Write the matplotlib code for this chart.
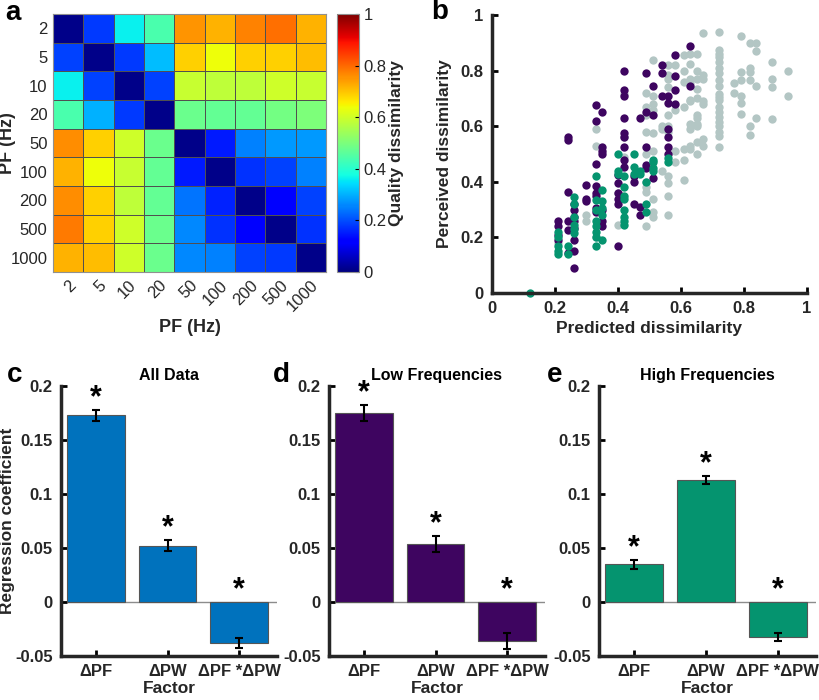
import numpy as np
import matplotlib.pyplot as plt

plt.rcParams['font.family'] = ['Liberation Sans', 'DejaVu Sans']

# ---- panel a: quality dissimilarity matrix
pf_labels = ['2', '5', '10', '20', '50', '100', '200', '500', '1000']
dissim = [
    [0.01, 0.18, 0.36, 0.44, 0.75, 0.72, 0.77, 0.79, 0.72],
    [0.19, 0.01, 0.18, 0.31, 0.69, 0.64, 0.69, 0.69, 0.71],
    [0.36, 0.19, 0.01, 0.19, 0.59, 0.58, 0.58, 0.60, 0.59],
    [0.44, 0.30, 0.18, 0.01, 0.48, 0.47, 0.47, 0.49, 0.50],
    [0.76, 0.69, 0.60, 0.48, 0.01, 0.15, 0.25, 0.275, 0.275],
    [0.72, 0.64, 0.59, 0.47, 0.15, 0.01, 0.175, 0.19, 0.25],
    [0.76, 0.69, 0.58, 0.47, 0.24, 0.16, 0.01, 0.11, 0.19],
    [0.78, 0.69, 0.60, 0.48, 0.26, 0.175, 0.11, 0.01, 0.175],
    [0.72, 0.71, 0.60, 0.48, 0.26, 0.25, 0.19, 0.18, 0.01],
]

# ---- panel b: predicted vs perceived dissimilarity
cross_x = [0.21, 0.30, 0.30, 0.33, 0.33, 0.33, 0.40, 0.40, 0.42, 0.42, 0.42,
           0.49, 0.49, 0.49, 0.49, 0.49, 0.49, 0.49, 0.49, 0.49,
           0.51, 0.51, 0.51, 0.51, 0.51, 0.51, 0.51, 0.51, 0.51,
           0.54, 0.54, 0.54,
           0.56, 0.56, 0.56, 0.56, 0.56, 0.56, 0.56, 0.56, 0.56, 0.56, 0.56,
           0.58, 0.58, 0.58, 0.58,
           0.61, 0.61, 0.61, 0.61, 0.61, 0.61, 0.61,
           0.63, 0.63, 0.63, 0.63, 0.63, 0.63, 0.63, 0.63, 0.63, 0.63,
           0.65, 0.65, 0.65, 0.65, 0.65, 0.65, 0.65, 0.65, 0.65, 0.65, 0.65,
           0.67, 0.67, 0.67, 0.67, 0.67, 0.67, 0.67,
           0.72, 0.72, 0.72, 0.72, 0.72, 0.72, 0.72, 0.72, 0.72, 0.72,
           0.72, 0.72, 0.72, 0.72, 0.72, 0.72, 0.72, 0.72, 0.72, 0.72,
           0.77, 0.77,
           0.79, 0.79, 0.79, 0.79, 0.79, 0.79,
           0.82, 0.82, 0.82, 0.82, 0.82, 0.82,
           0.84, 0.84, 0.84, 0.84,
           0.89, 0.89, 0.89, 0.89,
           0.94, 0.94]
cross_y = [0.18, 0.28, 0.26, 0.53, 0.59, 0.20, 0.36, 0.245, 0.715, 0.56, 0.49,
           0.72, 0.67, 0.64, 0.58, 0.50, 0.40, 0.38, 0.365, 0.24,
           0.84, 0.71, 0.68, 0.66, 0.575, 0.51, 0.34, 0.29, 0.275,
           0.60, 0.59, 0.44,
           0.82, 0.785, 0.77, 0.74, 0.64, 0.60, 0.58, 0.42, 0.395, 0.35, 0.28,
           0.82, 0.66, 0.51, 0.47,
           0.855, 0.80, 0.76, 0.67, 0.52, 0.48, 0.405,
           0.86, 0.825, 0.77, 0.755, 0.695, 0.69, 0.61, 0.59, 0.53, 0.52,
           0.86, 0.80, 0.77, 0.735, 0.70, 0.64, 0.63, 0.61, 0.60, 0.545, 0.50,
           0.935, 0.785, 0.77, 0.69, 0.68, 0.555, 0.53,
           0.94, 0.875, 0.86, 0.85, 0.83, 0.81, 0.79, 0.765, 0.745, 0.715,
           0.705, 0.695, 0.67, 0.65, 0.635, 0.615, 0.60, 0.58, 0.565, 0.525,
           0.755, 0.72,
           0.925, 0.795, 0.765, 0.71, 0.685, 0.645,
           0.90, 0.81, 0.795, 0.765, 0.60, 0.57,
           0.90, 0.87, 0.745, 0.63,
           0.83, 0.77, 0.74, 0.625,
           0.80, 0.71]

low_x = [0.21, 0.21, 0.21, 0.21,
         0.24, 0.24, 0.24, 0.24, 0.24, 0.24,
         0.26, 0.26, 0.26, 0.26, 0.26, 0.26, 0.26, 0.26,
         0.30, 0.30, 0.30,
         0.33, 0.33, 0.33, 0.33, 0.33, 0.33, 0.33, 0.33,
         0.35, 0.35, 0.35, 0.35, 0.35, 0.35, 0.35,
         0.40, 0.40, 0.40, 0.40, 0.40, 0.40,
         0.42, 0.42, 0.42, 0.42, 0.42, 0.42, 0.42, 0.42, 0.42,
         0.45, 0.45, 0.45,
         0.47, 0.47, 0.47,
         0.49, 0.49, 0.49, 0.49, 0.49,
         0.51, 0.51, 0.51,
         0.54, 0.54, 0.54,
         0.56, 0.56, 0.56, 0.56, 0.56, 0.56,
         0.58, 0.58, 0.58, 0.58,
         0.63, 0.63]
low_y = [0.26, 0.24, 0.21, 0.19,
         0.56, 0.55, 0.365, 0.26, 0.225, 0.145,
         0.32, 0.30, 0.275, 0.26, 0.235, 0.19, 0.15, 0.09,
         0.39, 0.34, 0.33,
         0.675, 0.62, 0.465, 0.385, 0.36, 0.35, 0.305, 0.29,
         0.65, 0.525, 0.51, 0.50, 0.30, 0.26, 0.24,
         0.425, 0.395, 0.36, 0.34, 0.32, 0.17,
         0.80, 0.73, 0.71, 0.63, 0.575, 0.56, 0.525, 0.48, 0.455,
         0.42, 0.40, 0.32,
         0.63, 0.31, 0.28,
         0.79, 0.65, 0.525, 0.46, 0.45,
         0.745, 0.64, 0.415,
         0.82, 0.79, 0.71,
         0.71, 0.685, 0.59, 0.56, 0.525, 0.50,
         0.855, 0.78, 0.73, 0.68,
         0.89, 0.745]

high_x = [0.12,
          0.21, 0.21, 0.21, 0.21, 0.21,
          0.24, 0.24,
          0.26, 0.26, 0.26, 0.26, 0.26, 0.26,
          0.33, 0.33, 0.33, 0.33, 0.33, 0.33, 0.33, 0.33,
          0.35, 0.35, 0.35, 0.35, 0.35,
          0.40, 0.40, 0.40,
          0.42, 0.42, 0.42, 0.42, 0.42, 0.42, 0.42, 0.42,
          0.45, 0.45, 0.45,
          0.47, 0.47,
          0.49, 0.49, 0.49,
          0.51, 0.51, 0.51, 0.51,
          0.56, 0.56]
high_y = [0.0,
          0.22, 0.20, 0.17, 0.15, 0.14,
          0.17, 0.14,
          0.345, 0.32, 0.275, 0.245, 0.23, 0.215,
          0.42, 0.335, 0.30, 0.26, 0.24, 0.22, 0.20, 0.17,
          0.37, 0.33, 0.305, 0.28, 0.19,
          0.50, 0.44, 0.43,
          0.42, 0.38, 0.35, 0.34, 0.30, 0.275, 0.26, 0.245,
          0.50, 0.455, 0.43,
          0.44, 0.43,
          0.40, 0.32, 0.29,
          0.48, 0.47, 0.45, 0.44,
          0.485, 0.47]

# ---- panels c-e: regression coefficients
factors = ['ΔPF', 'ΔPW', 'ΔPF *ΔPW']
coef_all = [0.173, 0.052, -0.038]
err_all = [0.005, 0.005, 0.005]
coef_low = [0.175, 0.054, -0.0365]
err_low = [0.0077, 0.0074, 0.0074]
coef_high = [0.035, 0.113, -0.0325]
err_high = [0.0043, 0.004, 0.004]

BLUE = '#0072BD'
PURPLE = '#3E0560'
GREEN = '#05946F'
GREY = '#B3C6C4'
INK = '#262626'

fig = plt.figure(figsize=(8.2, 7), dpi=100)

# a
ax = fig.add_axes([0.0646, 0.6114, 0.333, 0.3686])
cax = fig.add_axes([0.411, 0.6114, 0.0268, 0.3686])
m = ax.pcolormesh(np.array(dissim), cmap='jet', vmin=0, vmax=1,
                  edgecolors='#505050', linewidth=0.5)
ax.set_xlim(0, 9)
ax.set_ylim(9, 0)
ax.set_xticks(np.arange(9) + 0.5)
ax.set_yticks(np.arange(9) + 0.5)
ax.set_xticklabels(pf_labels, rotation=45, ha='right', rotation_mode='anchor')
ax.set_yticklabels(pf_labels)
ax.tick_params(length=0, labelsize=12, pad=4, labelcolor=INK)
for s in ax.spines.values():
    s.set_color('#909090')
ax.set_xlabel('PF (Hz)', fontsize=13, fontweight='bold', labelpad=3, color=INK)
fig.text(0.0095, 0.7957, 'PF (Hz)', fontsize=13, fontweight='bold', color=INK,
         rotation=90, ha='center', va='center')
cb = fig.colorbar(m, cax=cax, ticks=[0, 0.2, 0.4, 0.6, 0.8, 1])
cb.ax.set_yticklabels(['0', '0.2', '0.4', '0.6', '0.8', '1'])
cb.ax.tick_params(labelsize=12, length=3, direction='in', labelcolor=INK)
cb.outline.set_color('#909090')
fig.text(0.4835, 0.7957, 'Quality dissimilarity', fontsize=12.5, fontweight='bold',
         color=INK, rotation=90, ha='center', va='center')
fig.text(0.006, 0.981, 'a', fontsize=20, fontweight='bold', va='center')

# b
ax = fig.add_axes([0.6, 0.5814, 0.384, 0.397])
ax.scatter(cross_x, cross_y, s=36, color=GREY, linewidths=0, clip_on=False)
ax.scatter(low_x, low_y, s=36, color=PURPLE, linewidths=0, clip_on=False)
ax.scatter(high_x, high_y, s=36, color=GREEN, linewidths=0, clip_on=False)
ax.set_xlim(0, 1)
ax.set_ylim(0, 1)
ax.set_xticks([0, 0.2, 0.4, 0.6, 0.8, 1])
ax.set_xticklabels(['0', '0.2', '0.4', '0.6', '0.8', '1'])
ax.set_yticks([0, 0.2, 0.4, 0.6, 0.8, 1])
ax.set_yticklabels(['0', '0.2', '0.4', '0.6', '0.8', '1'])
ax.spines['top'].set_visible(False)
ax.spines['right'].set_visible(False)
for s in ['left', 'bottom']:
    ax.spines[s].set_linewidth(2.5)
    ax.spines[s].set_color(INK)
ax.tick_params(direction='in', length=4, width=2, labelsize=12, pad=6)
for t in ax.get_xticklabels() + ax.get_yticklabels():
    t.set_fontweight('bold')
    t.set_color(INK)
ax.set_xlabel('Predicted dissimilarity', fontsize=12.5, fontweight='bold', color=INK, labelpad=3)
ax.set_ylabel('Perceived dissimilarity', fontsize=12.5, fontweight='bold', color=INK, labelpad=6)
fig.text(0.526, 0.983, 'b', fontsize=20, fontweight='bold', va='center')


def bar_panel(rect, coefs, errs, color, title, ylabel=False):
    ax = fig.add_axes(rect)
    x = np.arange(1, 4)
    ax.bar(x, coefs, width=0.8, color=color, edgecolor='#555555', linewidth=0.8, zorder=2)
    ax.errorbar(x, coefs, yerr=errs, fmt='none', ecolor='black', elinewidth=1.5,
                capsize=3, capthick=1.5, zorder=3)
    for xi, c, e in zip(x, coefs, errs):
        ax.text(xi, max(c + e, 0) - 0.003, '*', ha='center', va='bottom',
                fontsize=22, fontweight='bold')
    ax.axhline(0, color='#8c8c8c', lw=1, zorder=1)
    ax.set_xlim(0.51, 3.53)
    ax.set_ylim(-0.05, 0.2)
    ax.set_yticks([-0.05, 0, 0.05, 0.1, 0.15, 0.2])
    ax.set_yticklabels(['-0.05', '0', '0.05', '0.1', '0.15', '0.2'])
    ax.set_xticks(x)
    ax.set_xticklabels(factors)
    ax.spines['top'].set_visible(False)
    ax.spines['right'].set_visible(False)
    for s in ['left', 'bottom']:
        ax.spines[s].set_linewidth(2.5)
        ax.spines[s].set_color(INK)
    ax.tick_params(direction='in', length=4, width=2, labelsize=12, pad=6)
    for t in ax.get_xticklabels() + ax.get_yticklabels():
        t.set_fontweight('bold')
        t.set_color(INK)
    ax.set_xlabel('Factor', fontsize=12.5, fontweight='bold', color=INK, labelpad=1)
    if ylabel:
        ax.set_ylabel('Regression coefficient', fontsize=12.5, fontweight='bold',
                      color=INK, labelpad=0)
    ax.set_title(title, fontsize=11.5, fontweight='bold', pad=4)
    return ax


bar_panel([0.0744, 0.0629, 0.2634, 0.3857], coef_all, err_all, BLUE, 'All Data', ylabel=True)
bar_panel([0.4012, 0.0629, 0.2634, 0.3857], coef_low, err_low, PURPLE, 'Low Frequencies')
bar_panel([0.7305, 0.0629, 0.2646, 0.3857], coef_high, err_high, GREEN, 'High Frequencies')
fig.text(0.008, 0.465, 'c', fontsize=20, fontweight='bold', va='center')
fig.text(0.333, 0.465, 'd', fontsize=20, fontweight='bold', va='center')
fig.text(0.667, 0.465, 'e', fontsize=20, fontweight='bold', va='center')

fig.savefig('out.png', dpi=100)
